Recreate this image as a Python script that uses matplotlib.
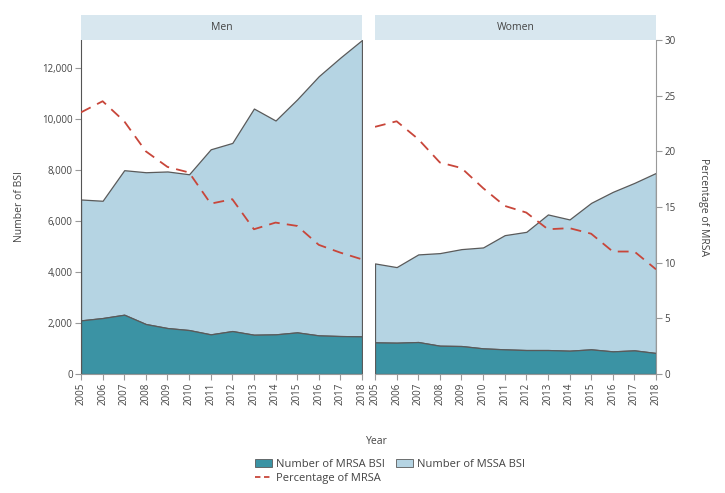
import matplotlib
matplotlib.use("Agg")
import matplotlib.pyplot as plt
from matplotlib.patches import Rectangle, Patch
from matplotlib.lines import Line2D
from matplotlib.ticker import FuncFormatter

plt.rcParams['font.family'] = ['Open Sans', 'DejaVu Sans']

years = list(range(2005, 2019))

men_total = [6850, 6800, 8000, 7920, 7950, 7840, 8820, 9070, 10420, 9950, 10780, 11690, 12420, 13110]
men_mrsa = [2105, 2196, 2327, 1961, 1804, 1725, 1556, 1686, 1542, 1556, 1634, 1516, 1490, 1478]
men_pct = [23.5, 24.5, 22.7, 20.0, 18.6, 18.1, 15.3, 15.7, 13.0, 13.6, 13.3, 11.6, 10.9, 10.3]

women_total = [4340, 4196, 4694, 4745, 4902, 4968, 5450, 5580, 6263, 6067, 6718, 7149, 7502, 7894]
women_mrsa = [1242, 1229, 1255, 1111, 1098, 1007, 968, 941, 941, 915, 968, 889, 928, 824]
women_pct = [22.2, 22.7, 21.1, 19.0, 18.5, 16.7, 15.1, 14.5, 13.0, 13.1, 12.6, 11.0, 11.0, 9.4]

panels = ["Men", "Women"]
legend_labels = ["Number of MRSA BSI", "Number of MSSA BSI", "Percentage of MRSA"]

C_MRSA = "#3b93a4"
C_MSSA = "#b5d4e3"
C_STRIP = "#d8e7ef"
C_RED = "#c8463a"
C_EDGE = "#5a5a5a"
C_TXT = "#444444"

W, H = 725, 493
fig = plt.figure(figsize=(W / 100, H / 100), dpi=100)

ymax = 13110
pos = [(81, 362), (375, 656)]
top_px, bot_px = 40, 374

data = [(men_total, men_mrsa, men_pct), (women_total, women_mrsa, women_pct)]

for i, (name, (x0, x1), (tot, mrsa, pct)) in enumerate(zip(panels, pos, data)):
    ax = fig.add_axes([x0 / W, 1 - bot_px / H, (x1 - x0) / W, (bot_px - top_px) / H])
    ax.fill_between(years, mrsa, tot, facecolor=C_MSSA, edgecolor=C_EDGE, linewidth=0.9, zorder=1)
    ax.fill_between(years, 0, mrsa, facecolor=C_MRSA, edgecolor=C_EDGE, linewidth=0.9, zorder=2)
    ax.set_xlim(2005, 2018)
    ax.set_ylim(0, ymax)
    ax.set_xticks(years)
    ax.set_xticklabels([str(y) for y in years], rotation=90, fontsize=7, color=C_TXT)
    ax.tick_params(axis='x', length=4, color='#999999', pad=2)
    for s in ['top', 'right']:
        ax.spines[s].set_visible(False)
    ax.spines['bottom'].set_color('#999999')
    if i == 0:
        ax.spines['left'].set_color('#555555')
        ax.set_yticks(range(0, 12001, 2000))
        ax.yaxis.set_major_formatter(FuncFormatter(lambda v, p: f"{int(v):,}"))
        ax.tick_params(axis='y', length=4, color='#999999', labelsize=7, labelcolor=C_TXT, pad=2)
    else:
        ax.spines['left'].set_visible(False)
        ax.set_yticks([])
    ax2 = ax.twinx()
    ax2.plot(years, pct, color=C_RED, linestyle=(0, (6, 4)), linewidth=1.3, zorder=5)
    ax2.set_ylim(0, 30)
    ax2.set_xlim(2005, 2018)
    for s in ['top', 'left', 'bottom']:
        ax2.spines[s].set_visible(False)
    if i == 1:
        ax2.spines['right'].set_color('#999999')
        ax2.set_yticks(range(0, 31, 5))
        ax2.tick_params(axis='y', length=4, color='#999999', labelsize=7, labelcolor=C_TXT, pad=2)
    else:
        ax2.spines['right'].set_visible(False)
        ax2.set_yticks([])
    # strip
    fig.patches.append(Rectangle((x0 / W, 1 - top_px / H), (x1 - x0) / W, 25 / H,
                                 transform=fig.transFigure, facecolor=C_STRIP, edgecolor='none'))
    fig.text((x0 + x1) / 2 / W, 1 - 27.5 / H, name, ha='center', va='center', fontsize=7.5, color=C_TXT)

fig.text(20 / W, 1 - 207 / H, "Number of BSI", rotation=90, ha='center', va='center', fontsize=7.5, color=C_TXT)
fig.text(704 / W, 1 - 207 / H, "Percentage of MRSA", rotation=270, ha='center', va='center', fontsize=7.5, color=C_TXT)
fig.text(377 / W, 1 - 441 / H, "Year", ha='center', va='center', fontsize=7.5, color=C_TXT)

handles = [Patch(facecolor=C_MRSA, edgecolor=C_EDGE, linewidth=0.6),
           Line2D([0], [0], color=C_RED, linestyle=(0, (3, 2)), linewidth=1.3),
           Patch(facecolor=C_MSSA, edgecolor=C_EDGE, linewidth=0.6)]
labels = [legend_labels[0], legend_labels[2], legend_labels[1]]
fig.legend(handles, labels, ncol=2, loc='upper left', bbox_to_anchor=(255 / W, 1 - 459 / H),
           frameon=False, fontsize=8, labelcolor=C_TXT, columnspacing=1.0,
           handlelength=1.5, handletextpad=0.4, labelspacing=0.25, borderpad=0, borderaxespad=0)

fig.savefig("out.png", dpi=100)
